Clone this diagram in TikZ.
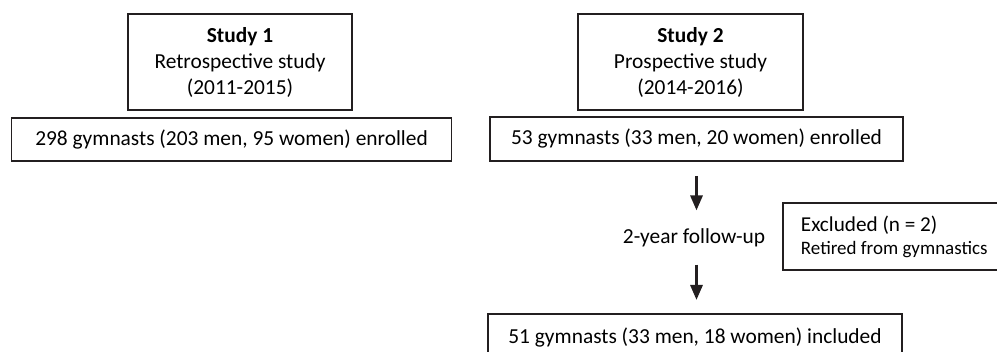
\documentclass[tikz,border=0pt]{standalone}
\usepackage{fontspec}
\setmainfont{Carlito}
\usetikzlibrary{arrows.meta,positioning,calc}
\definecolor{BoxLine}{RGB}{35,31,32}

\begin{document}
\begin{tikzpicture}[x=0.5pt,y=-0.5pt,
        box/.style={draw=BoxLine,line width=0.9pt,inner sep=0pt,align=center,
                    font=\fontsize{10.7}{13}\selectfont},
        arr/.style={-{Triangle[length=7.5pt,width=6pt]},BoxLine,line width=1.5pt}
      ]
        \useasboundingbox (0,0) rectangle (997,352);
        \clip (0,0) rectangle (997,352);
        % Study 1
        \node[box,minimum width=112pt,minimum height=48pt] (s1) at (240,62)
          {\textbf{Study 1}\\Retrospective study\\(2011-2015)};
        \node[box,minimum width=220pt,minimum height=21.5pt] (e1) at (231.5,139.5)
          {298 gymnasts (203 men, 95 women) enrolled};
        % Study 2
        \node[box,minimum width=112.5pt,minimum height=48pt] (s2) at (690.5,62)
          {\textbf{Study 2}\\Prospective study\\(2014-2016)};
        \node[box,minimum width=206.5pt,minimum height=22pt] (e2) at (696.5,139)
          {53 gymnasts (33 men, 20 women) enrolled};
        \node[inner sep=0pt,font=\fontsize{10.7}{13}\selectfont] (fu) at (694,238) {2-year follow-up};
        \node[box,anchor=north west,align=flush left,inner xsep=9pt,text width=140pt,
              minimum height=33.5pt,font=\fontsize{10.6}{11.5}\selectfont] (ex) at (782,202)
          {Excluded (n = 2)\\{\fontsize{9.5}{11.5}\selectfont Retired from gymnastics}};
        \node[box,anchor=north,minimum width=207pt,minimum height=24pt] (inc) at (695,313)
          {51 gymnasts (33 men, 18 women) included};
        % Arrows
        \draw[arr,shorten <=7pt,shorten >=9pt] (e2.south) -- (e2.south |- fu.north);
        \draw[arr,shorten <=8.5pt,shorten >=6.5pt] (e2.south |- fu.south) -- (e2.south |- inc.north);
      \end{tikzpicture}
\end{document}
